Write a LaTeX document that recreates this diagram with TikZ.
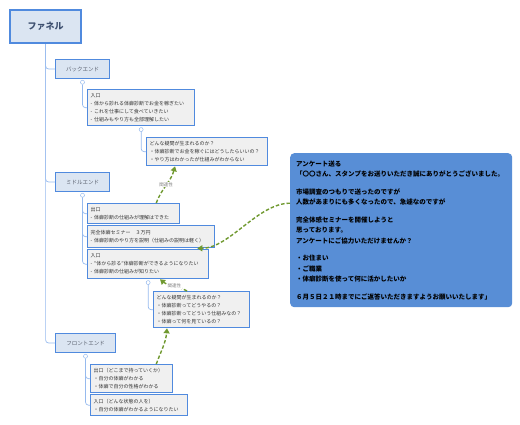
\documentclass[tikz,border=0pt]{standalone}
\usepackage{fontspec}
\setmainfont{Noto Sans CJK JP}
\usetikzlibrary{positioning, arrows.meta}
\definecolor{nodeblue}{RGB}{80,138,222}
\definecolor{levelfill}{RGB}{219,229,242}
\definecolor{leafgray}{RGB}{240,240,240}
\definecolor{treeblue}{RGB}{150,186,238}
\definecolor{relgreen}{RGB}{112,153,48}
\definecolor{noteblue}{RGB}{88,142,214}
\definecolor{rootgray}{RGB}{62,80,112}
\definecolor{levelgray}{RGB}{90,96,110}
\definecolor{leaftext}{RGB}{51,51,51}

\begin{document}
\begin{tikzpicture}[x=1pt, y=-1pt,
    root/.style={draw=nodeblue, line width=2.2pt, fill=levelfill, anchor=north west,
      minimum width=71pt, minimum height=33pt, font=\fontsize{9}{10}\selectfont\bfseries, text=rootgray},
    branch/.style={draw=nodeblue, line width=1pt, fill=levelfill, anchor=north west, inner sep=0pt,
      minimum height=19pt, font=\fontsize{5.5}{7}\selectfont, text=levelgray},
    leaf/.style={draw=nodeblue, line width=1.3pt, fill=leafgray, anchor=north west, align=left,
      inner xsep=3pt, inner ysep=2pt, font=\fontsize{5}{8}\selectfont, text=leaftext},
    tree/.style={draw=treeblue, line width=0.7pt, rounded corners=3pt},
    fold/.style={circle, draw=treeblue, fill=white, line width=0.5pt, inner sep=0pt, minimum size=4pt},
    relate/.style={draw=relgreen, line width=1.4pt, dash pattern=on 3.5pt off 2pt,
      -{Triangle[length=5pt,width=6pt]}},
    rellabel/.style={fill=white, inner sep=0.5pt, font=\fontsize{4.5}{5}\selectfont, text=gray}]
  \useasboundingbox (0,0) rectangle (520,424);

  \node[root] (funnel) at (9,9) {ファネル};
  \node[branch, minimum width=54pt] (back) at (55,59) {バックエンド};
  \node[branch, minimum width=54pt] (mid) at (55,172) {ミドルエンド};
  \node[branch, minimum width=60pt] (front) at (55,333) {フロントエンド};

  \node[leaf, text width=101pt, minimum height=36pt] (bin) at (87,89)
    {入口\\- 体から診れる体癖診断でお金を稼ぎたい\\- これを仕事にして食べていきたい\\- 仕組みもやり方も全部理解したい};
  \node[leaf, text width=115pt, minimum height=28pt] (bq) at (146,137)
    {どんな疑問が生まれるのか？\\・体癖診断でお金を稼ぐにはどうしたらいいの？\\・やり方はわかったが仕組みがわからない};
  \node[leaf, text width=86pt, minimum height=20pt] (mout) at (87,203)
    {出口\\- 体癖診断の仕組みが理解はできた};
  \node[leaf, text width=121pt, minimum height=22pt] (msem) at (87,225)
    {完全体癖セミナー　３万円\\- 体癖診断のやり方を説明（仕組みの説明は軽く）};
  \node[leaf, text width=115pt, minimum height=29pt] (min) at (87,249)
    {入口\\- “体から診る”体癖診断ができるようになりたい\\- 体癖診断の仕組みが知りたい};
  \node[leaf, text width=90pt, minimum height=36pt] (mq) at (153,291)
    {どんな疑問が生まれるのか？\\・体癖診断ってどうやるの？\\・体癖診断ってどういう仕組みなの？\\・体癖って何を見ているの？};
  \node[leaf, text width=76pt, minimum height=28pt] (fout) at (90,364)
    {出口（どこまで持っていくか）\\・自分の体癖がわかる\\・体癖で自分の性格がわかる};
  \node[leaf, text width=91pt, minimum height=21pt] (fin) at (90,394)
    {入口（どんな状態の人を）\\・自分の体癖がわかるようになりたい};

  \node[fill=noteblue, rounded corners=4pt, anchor=north west, align=left, text width=210pt,
    inner xsep=6pt, minimum height=154pt, font=\fontsize{6.5}{10.5}\selectfont\bfseries] (note) at (290,153)
    {アンケート送る\\「〇〇さん、スタンプをお送りいただき誠にありがとうございました。\\[7pt]
     市場調査のつもりで送ったのですが\\人数があまりにも多くなったので、急遽なのですが\\[7pt]
     完全体感セミナーを開催しようと\\思っております。\\アンケートにご協力いただけませんか？\\[7pt]
     ・お住まい\\・ご職業\\・体癖診断を使って何に活かしたいか\\[7pt]
     ６月５日２１時までにご返答いただきますようお願いいたします」};

  \draw[tree] (funnel.south) |- (back.west);
  \draw[tree] (funnel.south) |- (mid.west);
  \draw[tree] (funnel.south) |- (front.west);
  \node[fold, below=1pt of back] (backfold) {};
  \node[fold, below=1pt of bin] (binfold) {};
  \node[fold, below=1pt of mid] (midfold) {};
  \node[fold, below=1pt of min] (minfold) {};
  \node[fold, below=1pt of front] (frontfold) {};
  \draw[tree] (backfold.south) |- (bin.west);
  \draw[tree] (binfold.south) |- (bq.west);
  \draw[tree] (midfold.south) |- (mout.west);
  \draw[tree] (midfold.south) |- (msem.west);
  \draw[tree] (midfold.south) |- (min.west);
  \draw[tree] (minfold.south) |- (mq.west);
  \draw[tree] (frontfold.south) |- (fout.west);
  \draw[tree] (frontfold.south) |- (fin.west);

  \draw[relate] ([xshift=-24pt]mout.north east) to[out=70, in=-105]
    node[rellabel, pos=0.5] {関連性} ([xshift=29pt]bq.south west);
  \draw[relate] ([yshift=27pt]note.west) to[out=180, in=0, looseness=0.8] ([xshift=-18pt]msem.south east);
  \draw[relate] ([xshift=34pt]mq.north west) to[out=150, in=-40]
    node[rellabel, pos=0.45] {関連性} ([xshift=73pt]min.south west);
  \draw[relate] ([xshift=-17pt]fout.north east) to[out=70, in=-95] ([xshift=14pt]mq.south west);
\end{tikzpicture}
\end{document}
